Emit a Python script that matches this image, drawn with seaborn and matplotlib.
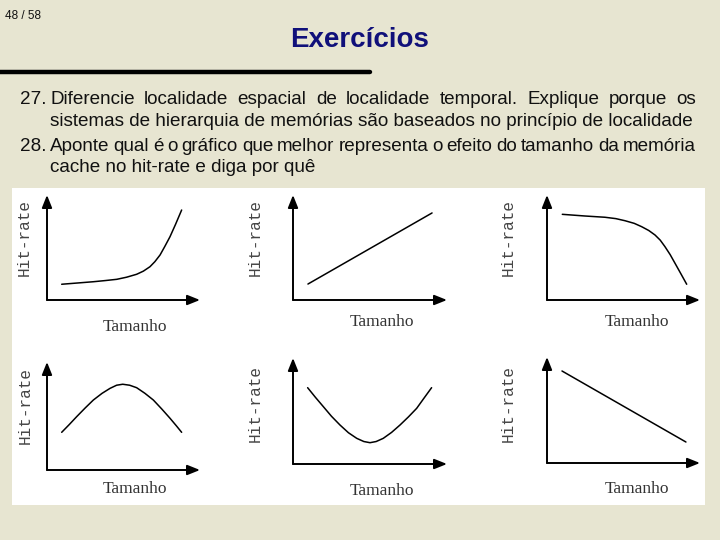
import matplotlib
matplotlib.use("Agg")
import matplotlib.pyplot as plt
from matplotlib.patches import Rectangle
import seaborn as sns

# slide text
page_label = "48 / 58"
title = "Exercícios"
item_numbers = ["27.", "28."]
item_lines = [
    ["Diferencie localidade espacial de localidade temporal. Explique porque os",
     "sistemas de hierarquia de memórias são baseados no princípio de localidade"],
    ["Aponte qual é o gráfico que melhor representa o efeito do tamanho da memória",
     "cache no hit-rate e diga por quê"],
]
x_name = "Tamanho"
y_name = "Hit-rate"

# curves of the six small charts (0..10 on both axes)
c1_x = [0.96, 2.0, 3.03, 3.8, 4.56, 5.2, 5.86, 6.3, 6.73, 7.05, 7.39, 7.7, 8.04, 8.4, 8.80]
c1_y = [1.50, 1.62, 1.74, 1.85, 1.97, 2.17, 2.45, 2.75, 3.17, 3.65, 4.29, 5.1, 6.03, 7.2, 8.57]
c2_x = [0.97, 9.03]
c2_y = [1.52, 8.29]
c3_x = [1.00, 2.48, 3.79, 4.5, 5.10, 5.7, 6.19, 6.65, 7.06, 7.4, 7.71, 8.05, 8.37, 8.75, 9.13]
c3_y = [8.16, 8.00, 7.88, 7.75, 7.55, 7.3, 6.98, 6.62, 6.19, 5.7, 5.08, 4.32, 3.49, 2.5, 1.50]
c4_x = [0.96, 1.45, 1.94, 2.5, 3.03, 3.6, 4.12, 4.55, 4.95, 5.4, 5.86, 6.4, 6.95, 7.5, 8.04, 8.45, 8.80]
c4_y = [3.49, 4.2, 4.94, 5.75, 6.48, 7.1, 7.56, 7.85, 7.94, 7.85, 7.62, 7.1, 6.48, 5.65, 4.79, 4.1, 3.49]
c5_x = [0.95, 1.45, 1.97, 2.5, 3.05, 3.6, 4.14, 4.6, 5.0, 5.4, 5.86, 6.4, 6.95, 7.5, 8.03, 8.5, 9.0]
c5_y = [7.2, 6.3, 5.41, 4.5, 3.68, 2.95, 2.42, 2.12, 2.01, 2.12, 2.42, 2.98, 3.68, 4.45, 5.25, 6.2, 7.2]
c6_x = [0.98, 9.08]
c6_y = [8.68, 1.98]

W, H = 720, 540
sns.set_style("white")
plt.rcParams['font.family'] = ['Liberation Sans', 'DejaVu Sans']

fig = plt.figure(figsize=(7.2, 5.4), dpi=100)
fig.patch.set_facecolor('#e7e5d1')


def fx(px):
    return px / W


def fy(py):
    return 1 - py / H


# white panel behind the charts
fig.patches.append(Rectangle((fx(12), fy(505)), fx(705) - fx(12), (505 - 188) / H,
                             transform=fig.transFigure, facecolor='white',
                             edgecolor='none', zorder=-5))

fig.text(fx(5), fy(16), page_label, fontsize=8.5, color='#111', va='center')
fig.text(fx(360), fy(40), title, fontsize=20, fontweight='bold', color='#10107a',
         ha='center', va='center')
fig.add_artist(plt.Line2D([0, fx(370)], [fy(72), fy(72)], color='black', lw=3.2,
                          transform=fig.transFigure))

# body text, justified like the slide
renderer = fig.canvas.get_renderer()
line_y = [[100, 121], [147, 168]]
left, right = 50, 696
body_size = 13.6
for num, lines, ys in zip(item_numbers, item_lines, line_y):
    fig.text(fx(20), fy(ys[0]), num, fontsize=body_size, color='#111', va='center')
    for i, (line, y) in enumerate(zip(lines, ys)):
        last = i == len(lines) - 1
        if last:
            fig.text(fx(left), fy(y), line, fontsize=body_size, color='#111', va='center')
            continue
        words = line.split()
        texts = [fig.text(0, fy(y), w, fontsize=body_size, color='#111', va='center')
                 for w in words]
        widths = [t.get_window_extent(renderer).width for t in texts]
        gap = (right - left - sum(widths)) / (len(words) - 1)
        pos = left
        for t, w in zip(texts, widths):
            t.set_x(fx(pos))
            pos += w + gap

# chart boxes: (origin x, origin y, x tip, y tip) in pixels
boxes = [(47, 300, 200, 195), (293, 300, 447, 195), (547, 300, 700, 195),
         (47, 470, 200, 362), (293, 464, 447, 358), (547, 463, 700, 357)]
curves = [(c1_x, c1_y), (c2_x, c2_y), (c3_x, c3_y),
          (c4_x, c4_y), (c5_x, c5_y), (c6_x, c6_y)]
x_label_pos = [(135, 327), (382, 322), (637, 322), (135, 489), (382, 491), (637, 489)]
y_label_pos = [(24, 238), (255, 238), (508, 237), (25, 405), (255, 403), (508, 403)]

for (x0, y0, x1, y1), (cx, cy), xl, yl in zip(boxes, curves, x_label_pos, y_label_pos):
    ax = fig.add_axes([fx(x0), fy(y0), (x1 - x0) / W, (y0 - y1) / H])
    ax.patch.set_alpha(0)
    sns.lineplot(x=cx, y=cy, ax=ax, color='black', lw=1.1, estimator=None, sort=False)
    ax.set_xlim(0, 10)
    ax.set_ylim(0, 10)
    ax.axis('off')
    arrow = dict(arrowstyle='-|>,head_length=0.75,head_width=0.3', lw=1.4,
                 color='black', shrinkA=0, shrinkB=0)
    ax.annotate('', xy=(10, 0), xytext=(0, 0), arrowprops=arrow, annotation_clip=False)
    ax.annotate('', xy=(0, 10), xytext=(0, 0), arrowprops=arrow, annotation_clip=False)
    fig.text(fx(xl[0]), fy(xl[1]), x_name, fontsize=12.5, family='Liberation Serif',
             color='#333', ha='center', va='center')
    fig.text(fx(yl[0]), fy(yl[1]), y_name, fontsize=11.5, family='Liberation Mono',
             color='#444', ha='center', va='center', rotation=90)

fig.savefig('out.png', dpi=100, facecolor=fig.get_facecolor())
